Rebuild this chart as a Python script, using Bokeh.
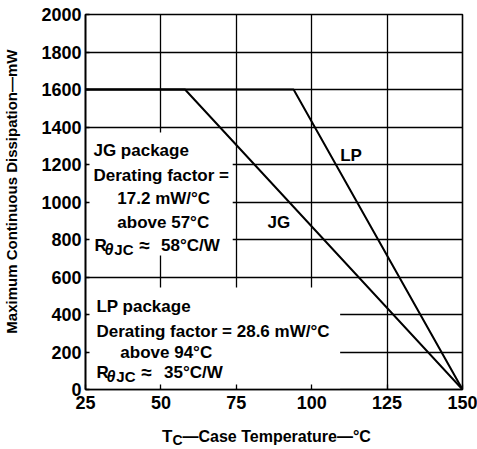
from bokeh.plotting import figure
from bokeh.models import Range1d, FixedTicker, Label, Div
from bokeh.layouts import column
from bokeh.embed import file_html
from bokeh.resources import INLINE

# ---- data ----
x_ticks = [25, 50, 75, 100, 125, 150]
y_ticks = [0, 200, 400, 600, 800, 1000, 1200, 1400, 1600, 1800, 2000]
jg_temp = [25, 58, 150]
jg_power = [1600, 1600, 0]
lp_temp = [25, 94, 150]
lp_power = [1600, 1600, 0]

# ---- layout (pixels of the frame) ----
FX0, FX1, FY0, FY1 = 83, 462, 14, 389
W, H = 477, 420
DIV_H = 29


def dx(px):
    return 25 + (px - FX0) * (125.0 / (FX1 - FX0))


def dy(py):
    return (FY1 - py) * (2000.0 / (FY1 - FY0))


p = figure(width=W, height=H, output_backend="svg", toolbar_location=None,
           x_range=Range1d(25, 150), y_range=Range1d(0, 2000),
           min_border_left=FX0, min_border_right=W - FX1,
           min_border_top=FY0, min_border_bottom=H - FY1)
p.background_fill_color = "white"
p.border_fill_color = "white"
p.outline_line_color = "black"
p.outline_line_width = 1.6
p.outline_line_alpha = 1.0

FONT = "Liberation Sans"

for ax, ticks in ((p.xaxis[0], x_ticks), (p.yaxis[0], y_ticks)):
    ax.ticker = FixedTicker(ticks=ticks)
    ax.minor_tick_line_color = None
    ax.axis_line_color = "black"
    ax.axis_line_width = 1.6
    ax.major_tick_line_color = "black"
    ax.major_tick_line_width = 1.3
    ax.major_tick_out = 0
    ax.major_label_text_font = FONT
    ax.major_label_text_font_style = "bold"
    ax.major_label_text_font_size = "18px"
    ax.major_label_text_color = "black"
p.xaxis[0].major_tick_in = 5
p.yaxis[0].major_tick_in = 4
p.xaxis[0].major_label_standoff = 6
p.yaxis[0].major_label_standoff = 4

yax = p.yaxis[0]
yax.axis_label = "\u00a0" * 5 + "Maximum Continuous Dissipation—mW"
yax.axis_label_text_font = FONT
yax.axis_label_text_font_style = "bold"
yax.axis_label_text_font_size = "15px"
yax.axis_label_text_color = "black"
yax.axis_label_standoff = 18

p.xgrid[0].ticker = FixedTicker(ticks=x_ticks)
p.ygrid[0].ticker = FixedTicker(ticks=y_ticks)
for g in (p.xgrid[0], p.ygrid[0]):
    g.grid_line_color = "black"
    g.grid_line_width = 1.3
    g.grid_line_alpha = 1.0

# white areas behind the annotation blocks
p.quad(left=[dx(84.5), dx(84.5)], right=[dx(231), dx(339)],
       top=[dy(132), dy(287)], bottom=[dy(255), dy(388)],
       fill_color="white", line_color=None)

p.line(jg_temp, jg_power, line_color="black", line_width=2)
p.line(lp_temp, lp_power, line_color="black", line_width=2)


def lab(text, px, py, size=17, align="left", style="bold"):
    p.add_layout(Label(x=dx(px), y=dy(py), text=text, text_font=FONT,
                       text_font_style=style, text_font_size=f"{size}px",
                       text_color="black", text_align=align,
                       text_baseline="alphabetic"))


def rtheta(px, py, rest_px, rest):
    lab("R", px, py)
    lab("θ", px + 10, py + 4, size=16, style="bold italic")
    lab("JC", px + 20, py + 4, size=15)
    lab("≈", px + 45, py, size=19)
    lab(rest, rest_px, py)


# JG block
lab("JG package", 91, 150)
lab("Derating factor =", 91, 175)
lab("17.2 mW/°C", 115, 198)
lab("above 57°C", 115, 222)
rtheta(92, 245, 159, "58°C/W")

# LP block
lab("LP package", 94, 306)
lab("Derating factor = 28.6 mW/°C", 94, 331)
lab("above 94°C", 118, 352)
rtheta(94, 372, 162, "35°C/W")

# curve labels
lab("JG", 266, 222)
lab("LP", 339, 155)

# x axis title, with a real subscript
x_title = Div(
    text=('<div style="font-family:\'Liberation Sans\';font-weight:bold;'
          'font-size:17px;color:black;white-space:nowrap;line-height:19px;'
          'padding-left:162px;padding-top:7px;">'
          'T<span style="font-size:14px;position:relative;top:3px;">C</span>'
          '<span style="font-size:16px;">—Case Temperature—°C</span></div>'),
    width=W, height=DIV_H, margin=0)

layout = column(p, x_title, spacing=0)
open("out.html", "w").write(file_html(layout, INLINE))
